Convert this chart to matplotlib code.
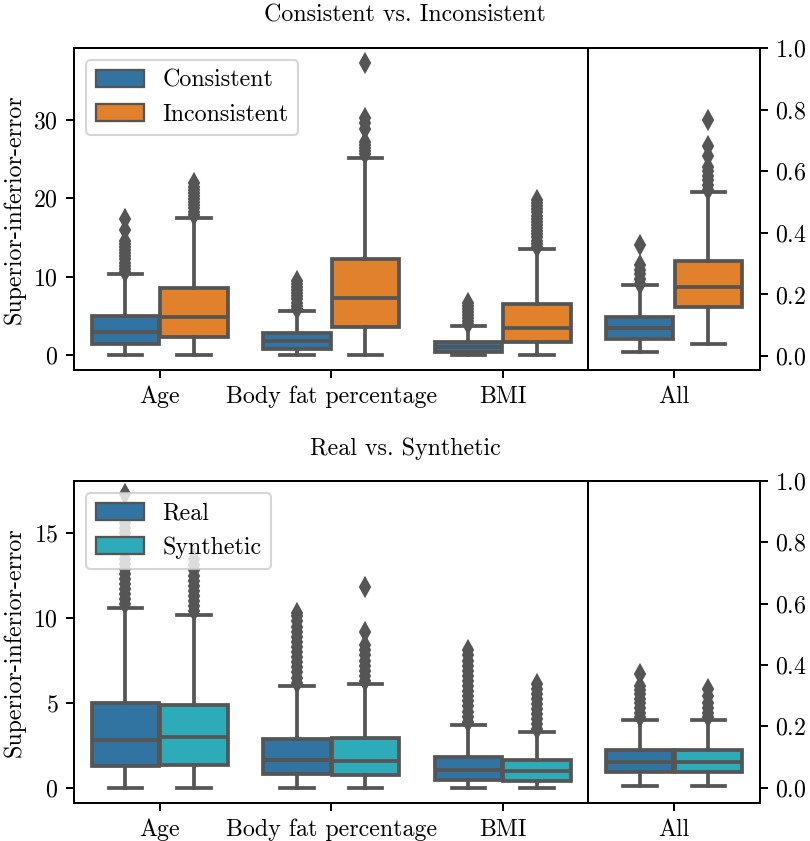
import numpy as np
import matplotlib
matplotlib.use("Agg")
import matplotlib.pyplot as plt
from matplotlib.patches import Patch

plt.rcParams["font.family"] = "serif"
plt.rcParams["font.serif"] = ["cmr10", "DejaVu Serif"]
plt.rcParams["mathtext.fontset"] = "cm"
plt.rcParams["axes.formatter.use_mathtext"] = True
plt.rcParams["font.size"] = 11.5
plt.rcParams["axes.linewidth"] = 0.95
plt.rcParams["xtick.major.width"] = 0.95
plt.rcParams["ytick.major.width"] = 0.95
plt.rcParams["xtick.major.size"] = 4
plt.rcParams["ytick.major.size"] = 4

categories = ["Age", "Body fat percentage", "BMI"]

# --- Consistent vs. Inconsistent ---
cons_lo = [0.0, 0.0, 0.0]
cons_q1 = [1.36, 0.72, 0.43]
cons_med = [2.98, 1.83, 1.06]
cons_q3 = [4.98, 2.77, 1.60]
cons_hi = [10.38, 5.66, 3.66]
cons_fliers = [
    [10.6, 11.0, 11.4, 11.8, 12.2, 12.6, 13.0, 13.4, 13.8, 14.2, 14.6, 16.0, 17.3],
    [5.9, 6.3, 6.7, 7.1, 7.5, 7.9, 8.3, 8.7, 9.1, 9.4],
    [3.9, 4.3, 4.7, 5.1, 5.5, 5.9, 6.3, 6.6],
]
incons_lo = [0.0, 0.0, 0.0]
incons_q1 = [2.34, 3.53, 1.70]
incons_med = [4.89, 7.32, 3.49]
incons_q3 = [8.60, 12.30, 6.47]
incons_hi = [17.53, 25.20, 13.57]
incons_fliers = [
    [17.9, 18.3, 18.7, 19.1, 19.5, 19.9, 20.3, 20.7, 21.1, 21.5, 21.9],
    [25.6, 26.0, 26.4, 26.8, 27.2, 28.8, 29.6, 30.2, 37.3],
    [13.8, 14.2, 14.6, 15.0, 15.4, 15.8, 16.2, 16.6, 17.0, 17.4, 17.8, 18.2,
     18.6, 19.0, 19.4, 19.8],
]
# "All" panel (normalised, right axis)
cons_all = dict(whislo=0.014, q1=0.054, med=0.090, q3=0.126, whishi=0.229,
                fliers=[0.235, 0.25, 0.265, 0.28, 0.295, 0.36])
incons_all = dict(whislo=0.040, q1=0.160, med=0.225, q3=0.310, whishi=0.531,
                  fliers=[0.54, 0.555, 0.57, 0.585, 0.60, 0.615, 0.65, 0.68, 0.765])

# --- Real vs. Synthetic ---
real_lo = [0.0, 0.0, 0.0]
real_q1 = [1.27, 0.84, 0.45]
real_med = [2.80, 1.63, 1.08]
real_q3 = [5.00, 2.88, 1.82]
real_hi = [10.59, 5.98, 3.70]
real_fliers = [
    [10.8, 11.1, 11.4, 11.7, 12.0, 12.3, 12.6, 12.9, 13.2, 13.5, 13.8, 14.1,
     14.4, 14.7, 15.0, 15.3, 15.6, 15.9, 17.3],
    [6.2, 6.5, 6.8, 7.1, 7.4, 7.7, 8.0, 8.3, 8.6, 8.9, 9.2, 9.5, 9.8, 10.1, 10.3],
    [3.9, 4.2, 4.5, 4.8, 5.1, 5.4, 5.7, 6.0, 6.3, 6.6, 6.9, 7.2, 7.5, 7.8, 8.1],
]
syn_lo = [0.0, 0.0, 0.0]
syn_q1 = [1.37, 0.78, 0.43]
syn_med = [2.98, 1.60, 1.02]
syn_q3 = [4.90, 2.94, 1.63]
syn_hi = [10.20, 6.12, 3.27]
syn_fliers = [
    [10.4, 10.7, 11.0, 11.3, 11.6, 11.9, 12.2, 12.5, 12.8, 13.1, 13.5],
    [6.3, 6.6, 6.9, 7.2, 7.5, 7.8, 8.1, 8.4, 9.2, 11.8],
    [3.45, 3.75, 4.05, 4.35, 4.65, 4.95, 5.25, 5.55, 5.85, 6.1],
]
real_all = dict(whislo=0.005, q1=0.051, med=0.084, q3=0.123, whishi=0.222,
                fliers=[0.23, 0.245, 0.26, 0.275, 0.29, 0.305, 0.32, 0.33, 0.37])
syn_all = dict(whislo=0.005, q1=0.051, med=0.084, q3=0.122, whishi=0.222,
               fliers=[0.23, 0.245, 0.26, 0.277, 0.298, 0.323])

BLUE = "#3274a1"
ORANGE = "#e1812c"
CYAN = "#2eabb8"
GRAY = "#555555"
LW = 1.8


def make_stats(lo, q1, med, q3, hi, fliers):
    return [dict(whislo=lo[i], q1=q1[i], med=med[i], q3=q3[i], whishi=hi[i],
                 fliers=fliers[i]) for i in range(len(med))]


def draw_boxes(ax, stats, positions, color):
    ax.bxp(stats, positions=positions, widths=0.392, patch_artist=True,
           manage_ticks=False,
           boxprops=dict(facecolor=color, edgecolor=GRAY, linewidth=LW),
           medianprops=dict(color=GRAY, linewidth=LW),
           whiskerprops=dict(color=GRAY, linewidth=LW),
           capprops=dict(color=GRAY, linewidth=LW),
           flierprops=dict(marker="d", markerfacecolor=GRAY,
                           markeredgecolor=GRAY, markersize=5.8))


def draw_row(ax, ax_all, first, second, all_first, all_second, colors, labels,
             ylim, ylim_all, yticks):
    x = np.arange(len(categories))
    draw_boxes(ax, first, x - 0.2, colors[0])
    draw_boxes(ax, second, x + 0.2, colors[1])
    ax.set_xlim(-0.5, len(categories) - 0.5)
    ax.set_xticks(x)
    ax.set_xticklabels(categories)
    ax.set_ylim(*ylim)
    ax.set_yticks(yticks)
    ax.set_ylabel("Superior-inferior-error")

    draw_boxes(ax_all, [all_first], [-0.2], colors[0])
    draw_boxes(ax_all, [all_second], [0.2], colors[1])
    ax_all.set_xlim(-0.5, 0.5)
    ax_all.set_xticks([0])
    ax_all.set_xticklabels(["All"])
    ax_all.set_ylim(*ylim_all)
    ax_all.set_yticks([0.0, 0.2, 0.4, 0.6, 0.8, 1.0])
    ax_all.yaxis.tick_right()

    handles = [Patch(facecolor=c, edgecolor=GRAY, linewidth=1.1) for c in colors]
    ax.legend(handles, labels, loc="upper left")


fig = plt.figure(figsize=(5.4, 5.607), dpi=150)
gs = fig.add_gridspec(2, 2, width_ratios=[3, 1], wspace=0, hspace=0.345,
                      left=0.0914, right=0.938, top=0.943, bottom=0.0452)

ax1 = fig.add_subplot(gs[0, 0])
ax1_all = fig.add_subplot(gs[0, 1])
ax2 = fig.add_subplot(gs[1, 0])
ax2_all = fig.add_subplot(gs[1, 1])

draw_row(ax1, ax1_all,
         make_stats(cons_lo, cons_q1, cons_med, cons_q3, cons_hi, cons_fliers),
         make_stats(incons_lo, incons_q1, incons_med, incons_q3, incons_hi, incons_fliers),
         cons_all, incons_all, [BLUE, ORANGE], ["Consistent", "Inconsistent"],
         (-1.9, 39.2), (-0.045, 1.0), [0, 10, 20, 30])

draw_row(ax2, ax2_all,
         make_stats(real_lo, real_q1, real_med, real_q3, real_hi, real_fliers),
         make_stats(syn_lo, syn_q1, syn_med, syn_q3, syn_hi, syn_fliers),
         real_all, syn_all, [BLUE, CYAN], ["Real", "Synthetic"],
         (-0.88, 18.06), (-0.05, 1.0), [0, 5, 10, 15])

fig.text(0.5, 0.982, "Consistent vs. Inconsistent", ha="center", va="center")
fig.text(0.5, 0.466, "Real vs. Synthetic", ha="center", va="center")

fig.savefig("out.png", dpi=150)
